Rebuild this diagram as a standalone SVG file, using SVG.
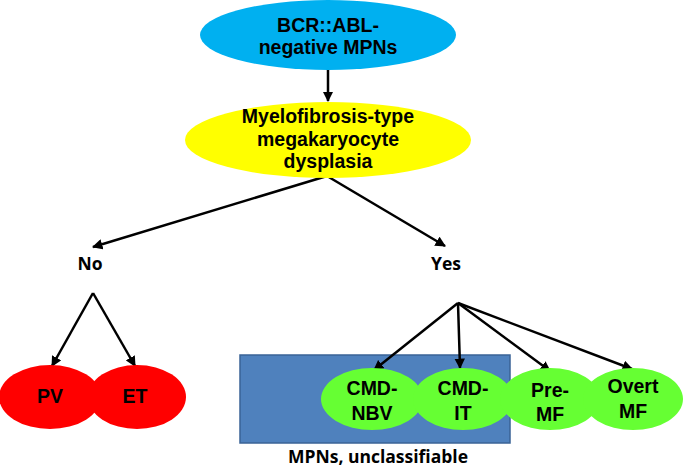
<svg xmlns="http://www.w3.org/2000/svg" width="685" height="469" viewBox="0 0 685 469">
<style>
.t{font-family:"Liberation Sans",Arial,sans-serif;font-weight:bold;font-size:19.5px;fill:#000;text-anchor:middle}
.c{font-family:"Open Sans","Liberation Sans",sans-serif;font-weight:bold;font-size:17.5px;fill:#000;text-anchor:middle}
.ln{stroke:#000;stroke-width:2.5;fill:none;marker-end:url(#ah)}
</style>
<defs>
<marker id="ah" viewBox="0 0 10 10" refX="9" refY="5" markerWidth="4.2" markerHeight="4.2" orient="auto" markerUnits="strokeWidth">
<path d="M0,0 L10,5 L0,10 z" fill="#000"/>
</marker>
</defs>
<rect id="unclassifiable-box" x="240" y="355" width="270" height="88" fill="#4F81BD" stroke="#3A6396" stroke-width="1.5"/>
<g id="connectors">
<line class="ln" x1="328" y1="70" x2="328" y2="101"/>
<line class="ln" x1="327" y1="176" x2="93" y2="247"/>
<line class="ln" x1="327" y1="176" x2="445" y2="246"/>
<line class="ln" x1="93" y1="293" x2="52" y2="366"/>
<line class="ln" x1="93" y1="293" x2="135" y2="366"/>
<line class="ln" x1="458" y1="303" x2="374" y2="370"/>
<line class="ln" x1="458" y1="303" x2="460" y2="368"/>
<line class="ln" x1="458" y1="303" x2="550" y2="371"/>
<line class="ln" x1="458" y1="303" x2="632" y2="369"/>
</g>
<g id="bcr-abl">
<ellipse cx="328" cy="35" rx="128" ry="35" fill="#00B0F0"/>
<text class="t" x="328" y="32">BCR::ABL-</text>
<text class="t" x="328" y="54">negative MPNs</text>
</g>
<g id="myelofibrosis">
<ellipse cx="328" cy="140" rx="143" ry="38" fill="#FFFF00"/>
<text class="t" x="328" y="123">Myelofibrosis-type</text>
<text class="t" x="328" y="146">megakaryocyte</text>
<text class="t" x="328" y="168">dysplasia</text>
</g>
<g id="no"><text class="c" x="90" y="270">No</text></g>
<g id="yes"><text class="c" x="446" y="270">Yes</text></g>
<g id="pv">
<ellipse cx="50" cy="397" rx="51" ry="32" fill="#FF0000"/>
<text class="t" x="50" y="403">PV</text>
</g>
<g id="et">
<ellipse cx="137" cy="397" rx="49" ry="32" fill="#FF0000"/>
<text class="t" x="135" y="403">ET</text>
</g>
<g id="cmd-nbv">
<ellipse cx="372" cy="399" rx="51" ry="31" fill="#66FF33"/>
<text class="t" x="372" y="395">CMD-</text>
<text class="t" x="372" y="420">NBV</text>
</g>
<g id="cmd-it">
<ellipse cx="463" cy="399" rx="50" ry="31" fill="#66FF33"/>
<text class="t" x="463" y="395">CMD-</text>
<text class="t" x="463" y="420">IT</text>
</g>
<g id="pre-mf">
<ellipse cx="550" cy="399" rx="50" ry="31" fill="#66FF33"/>
<text class="t" x="550" y="397">Pre-</text>
<text class="t" x="550" y="421">MF</text>
</g>
<g id="overt-mf">
<ellipse cx="633" cy="399" rx="50" ry="31" fill="#66FF33"/>
<text class="t" x="633" y="393">Overt</text>
<text class="t" x="633" y="418">MF</text>
</g>
<g id="mpn-u"><text class="c" x="378" y="463">MPNs, unclassifiable</text></g>
</svg>
